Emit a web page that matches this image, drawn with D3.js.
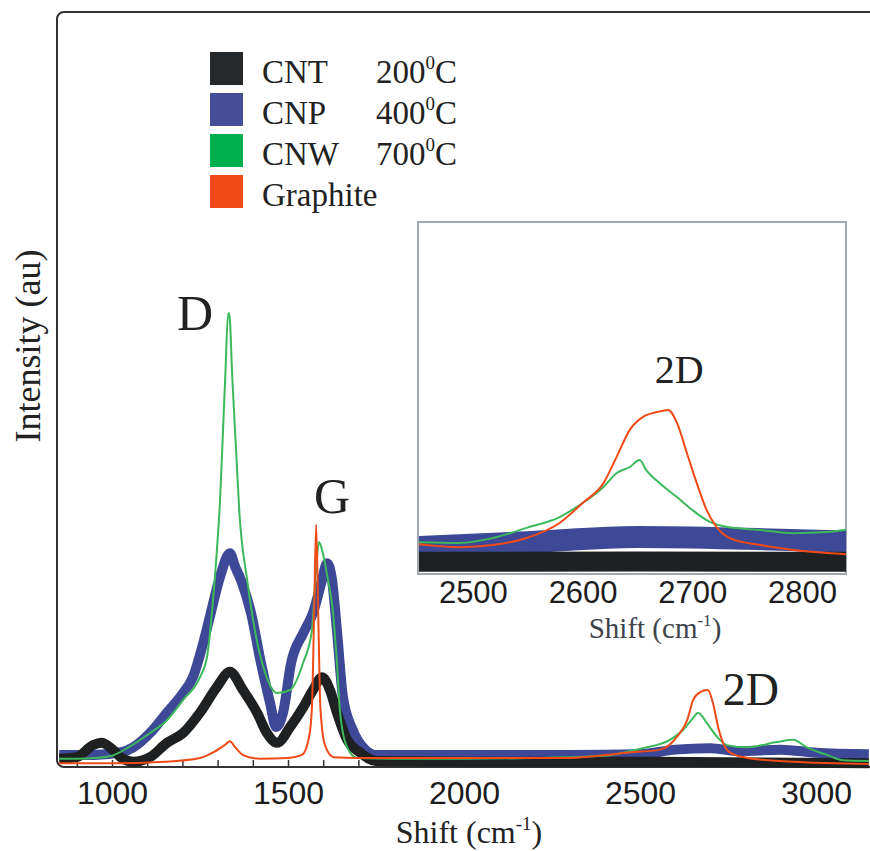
<!DOCTYPE html>
<html>
<head>
<meta charset="utf-8">
<script src="https://cdnjs.cloudflare.com/ajax/libs/d3/7.8.5/d3.min.js"></script>
<style>
    body { margin: 0; background: #fff; }
    svg { display: block; }
    text { font-family: "Liberation Serif", "Times New Roman", serif; fill: #222; }
    .tick text, .tick-label { font-family: "Liberation Sans", Arial, sans-serif; fill: #1c1c1c; }
</style>
</head>
<body>
<svg></svg>
<script>
// raman spectra, [shift cm-1, intensity au]
const cntData = [[850,11],[900,13],[946,29],[970,32],[1000,24],[1030,11],[1060,7],[1108,13],[1156,32],[1202,45],[1250,72],[1298,106],[1335,126],[1372,102],[1412,72],[1440,45],[1469,32],[1506,53],[1543,79],[1571,102],[1597,119],[1619,102],[1639,72],[1668,36],[1705,19],[1750,8],[2000,7],[2500,7],[3150,5]];
const cnpData = [[850,16],[950,16],[1030,20],[1060,26],[1108,45],[1156,72],[1202,98],[1230,119],[1259,164],[1278,199],[1307,252],[1335,283],[1350,265],[1366,248],[1395,204],[1423,138],[1449,85],[1466,53],[1486,72],[1509,138],[1543,177],[1571,204],[1597,248],[1611,270],[1625,248],[1639,181],[1656,93],[1684,49],[1719,23],[1747,16],[2000,16],[2300,16],[2500,17],[2600,23],[2700,25],[2780,21],[2900,23],[3000,19],[3150,17]];
const cnwData = [[850,11],[900,11],[950,12],[1000,15],[1043,25],[1108,45],[1156,62],[1202,89],[1250,119],[1270,146],[1287,221],[1298,287],[1307,354],[1314,430],[1322,520],[1330,601],[1333,601],[1342,513],[1352,424],[1362,336],[1384,248],[1406,181],[1435,125],[1469,98],[1506,102],[1543,138],[1568,181],[1580,262],[1588,298],[1598,285],[1612,252],[1628,204],[1639,138],[1648,72],[1668,26],[1696,12],[1800,11],[2000,11],[2200,12],[2400,15],[2508,25],[2585,36],[2622,49],[2651,65],[2665,72],[2690,58],[2719,40],[2747,29],[2804,26],[2889,33],[2935,36],[2974,26],[3031,16],[3077,9],[3150,8]];
const graphiteData = [[850,5],[1000,5],[1150,7],[1250,12],[1290,20],[1320,29],[1335,34],[1350,26],[1375,15],[1420,11],[1500,12],[1540,16],[1560,40],[1568,79],[1574,199],[1580,321],[1586,199],[1592,79],[1605,29],[1630,13],[1700,12],[2000,12],[2300,12],[2463,19],[2557,23],[2605,40],[2634,62],[2651,89],[2670,99],[2693,102],[2707,85],[2722,53],[2736,32],[2756,19],[2804,12],[2935,7],[3150,4]];

// inset, 2D band
const insetCnt = [[2440,2.9],[2650,3],[2850,2.9]];
const insetCnp = [[2440,7],[2550,8.5],[2650,10],[2750,9.5],[2850,8.6]];
const insetCnw = [[2440,8.6],[2488,8.3],[2518,9.7],[2549,12.6],[2579,15.7],[2600,19.7],[2619,24.3],[2631,28.3],[2643,30],[2652,32],[2658,29.1],[2670,25.4],[2686,21.4],[2700,17.7],[2716,14.3],[2731,12.9],[2762,12],[2792,11.1],[2823,11.4],[2850,12.6]];
const insetGraphite = [[2440,8.3],[2488,7.1],[2518,7.7],[2549,9.7],[2579,14],[2600,19.7],[2619,25.4],[2631,32.9],[2643,40.6],[2655,44.3],[2668,45.7],[2678,46.3],[2686,42.6],[2695,34],[2704,25.4],[2713,17.7],[2722,12.9],[2734,9.7],[2762,7.7],[2792,6.3],[2823,5.4],[2850,4.9]];

const xTicks = [1000, 1500, 2000, 2500, 3000];
const insetTicks = [2500, 2600, 2700, 2800];

const names = ["CNT", "CNP", "CNW", "Graphite"];
const temps = ["200", "400", "700", ""];
const colors = ["#1e2022", "#3d4896", "#3cb95a", "#f04a18"];
const swatch = ["#25282a", "#464e98", "#00ae4d", "#ef4a18"];

// peak labels [text, shift, intensity]
const peaks = [["D", 1236, 579], ["G", 1625, 336], ["2D", 2815, 82]];

const svg = d3.select("svg");
let width = 870,
    height = 851;
svg.attr("width", width).attr("height", height);

const xScale = d3.scaleLinear().domain([1000, 3000]).range([112, 816]),
    yScale = d3.scaleLinear().domain([0, 1000]).range([767, 12]);

const defs = svg.append("defs");
defs.append("clipPath").attr("id", "main-clip")
    .append("rect").attr("x", 58).attr("y", 12).attr("width", 812).attr("height", 768);

// frame, right side runs off the page
svg.append("rect")
    .attr("x", 57).attr("y", 12)
    .attr("width", 860).attr("height", 755)
    .attr("rx", 7)
    .attr("fill", "none")
    .attr("stroke", "#333")
    .attr("stroke-width", 2);

// minor ticks pointing in
svg.append("g")
    .attr("transform", "translate(0, 767)")
    .call(d3.axisBottom(xScale).tickValues(d3.range(900, 3200, 100)).tickSize(-7).tickFormat(""))
    .call(g => g.select(".domain").remove())
    .selectAll("line").attr("stroke", "#333").attr("stroke-width", 1.5);

svg.append("g")
    .attr("transform", "translate(0, 767)")
    .call(d3.axisBottom(xScale).tickValues(xTicks).tickSize(0).tickPadding(14).tickFormat(d3.format("d")))
    .call(g => g.select(".domain").remove())
    .selectAll("text").attr("font-size", 32).attr("dy", "0.71em");

const line = (x, y) => d3.line().x(d => x(d[0])).y(d => y(d[1])).curve(d3.curveMonotoneX);
const mainLine = line(xScale, yScale);

const plot = svg.append("g").attr("clip-path", "url(#main-clip)");
[[cnpData, 1, 10], [cntData, 0, 10], [cnwData, 2, 2], [graphiteData, 3, 2]].forEach(([d, i, w]) => {
    plot.append("path")
        .attr("d", mainLine(d))
        .attr("fill", "none")
        .attr("stroke", colors[i])
        .attr("stroke-width", w)
        .attr("stroke-linejoin", "round");
});

// peak names
svg.selectAll(".peak")
    .data(peaks)
    .enter()
    .append("text")
    .attr("class", "peak")
    .attr("x", d => xScale(d[1]))
    .attr("y", d => yScale(d[2]))
    .attr("text-anchor", "middle")
    .attr("font-size", (d, i) => i == 2 ? 46 : 50)
    .text(d => d[0]);

// axis titles
const xt = svg.append("text")
    .attr("x", 469).attr("y", 843)
    .attr("text-anchor", "middle")
    .attr("font-size", 32);
xt.append("tspan").text("Shift (cm");
xt.append("tspan").attr("font-size", 19).attr("dy", -13).text("-1");
xt.append("tspan").attr("dy", 13).text(")");

svg.append("text")
    .attr("transform", "translate(40, 346) rotate(-90)")
    .attr("text-anchor", "middle")
    .attr("font-size", 36)
    .text("Intensity (au)");

// legend
const legend = svg.append("g");
names.forEach((n, i) => {
    const y = 52 + i * 41;
    legend.append("rect")
        .attr("x", 210).attr("y", y)
        .attr("width", 33).attr("height", 33)
        .attr("fill", swatch[i]);
    legend.append("text")
        .attr("x", 262).attr("y", y + 31)
        .attr("font-size", 33)
        .text(n);
    if (temps[i]) {
        const t = legend.append("text")
            .attr("x", 457).attr("y", y + 31)
            .attr("text-anchor", "end")
            .attr("font-size", 33);
        t.append("tspan").text(temps[i]);
        t.append("tspan").attr("font-size", 19).attr("dy", -14).text("0");
        t.append("tspan").attr("dy", 14).text("C");
    }
});

// inset
const ix = d3.scaleLinear().domain([2450, 2840]).range([418, 846]),
    iy = d3.scaleLinear().domain([0, 100]).range([572, 222]);
const insetLine = line(ix, iy);

defs.append("clipPath").attr("id", "inset-clip")
    .append("rect").attr("x", 419).attr("y", 222).attr("width", 427).attr("height", 356);

svg.append("rect")
    .attr("x", 418).attr("y", 222)
    .attr("width", 428).attr("height", 352)
    .attr("fill", "#fff")
    .attr("stroke", "#a2a8b0")
    .attr("stroke-width", 2);

const inset = svg.append("g").attr("clip-path", "url(#inset-clip)");
[[insetCnp, 1, 22], [insetCnt, 0, 20], [insetCnw, 2, 2], [insetGraphite, 3, 2]].forEach(([d, i, w]) => {
    inset.append("path")
        .attr("d", insetLine(d))
        .attr("fill", "none")
        .attr("stroke", colors[i])
        .attr("stroke-width", w);
});

svg.append("g")
    .attr("transform", "translate(0, 574)")
    .call(d3.axisBottom(ix).tickValues(insetTicks).tickSize(0).tickPadding(7).tickFormat(d3.format("d")))
    .call(g => g.select(".domain").remove())
    .selectAll("text").attr("font-size", 31).attr("dy", "0.71em");

svg.append("text")
    .attr("x", ix(2688)).attr("y", iy(54))
    .attr("text-anchor", "middle")
    .attr("font-size", 40)
    .text("2D");

const it = svg.append("text")
    .attr("x", 655).attr("y", 638)
    .attr("text-anchor", "middle")
    .attr("font-size", 29)
    .style("fill", "#3d434a");
it.append("tspan").text("Shift (cm");
it.append("tspan").attr("font-size", 17).attr("dy", -12).text("-1");
it.append("tspan").attr("dy", 12).text(")");
</script>
</body>
</html>
